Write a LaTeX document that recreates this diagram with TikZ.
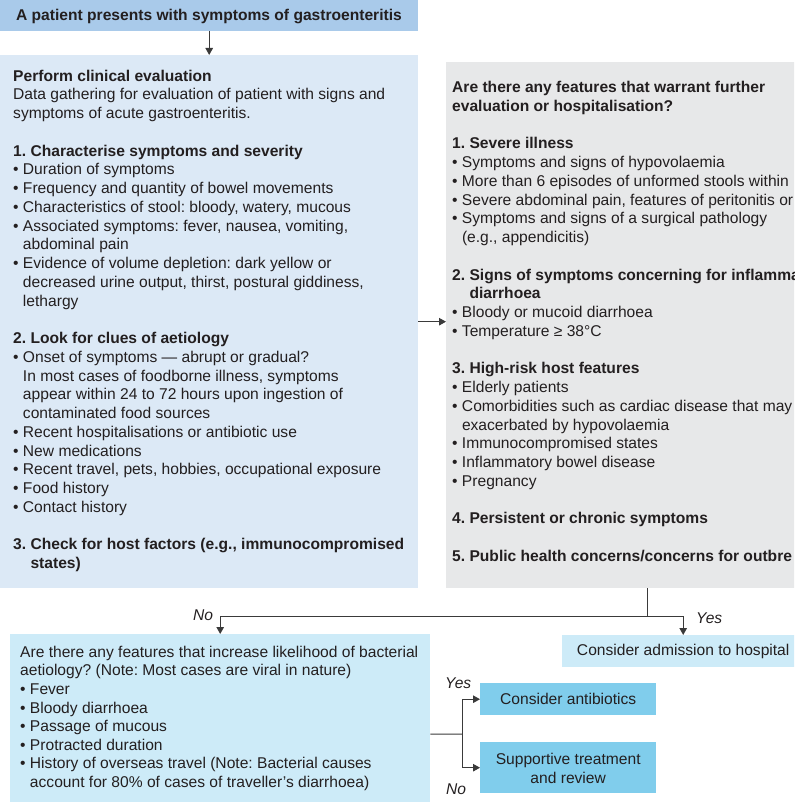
\documentclass[tikz,border=0pt]{standalone}
\usepackage{fontspec}
\setmainfont{Liberation Sans}
\usetikzlibrary{arrows.meta}
\frenchspacing
\definecolor{hdrblue}{HTML}{A9CAEA}
\definecolor{leftblue}{HTML}{DCE9F6}
\definecolor{rightgray}{HTML}{E7E8E9}
\definecolor{paleblue}{HTML}{CDEBF8}
\definecolor{midblue}{HTML}{80CDEC}
\definecolor{txtc}{HTML}{231F20}
\definecolor{linec}{HTML}{3A3A3A}
\newcommand{\fsz}{\fontsize{15.6}{18.75}\selectfont\frenchspacing}
\newcommand{\ind}{\hphantom{• }}
\newcommand{\gap}{\\[18.75pt]}
\begin{document}
\begin{tikzpicture}[x=1pt,y=-1pt,
  panel/.style={draw=none,rectangle,inner sep=0pt,anchor=north west},
  txt/.style={inner sep=0pt,anchor=north west,align=left,font=\fsz,text=txtc},
  ctxt/.style={inner sep=0pt,align=center,font=\fsz,text=txtc},
  lbl/.style={inner sep=0pt,font=\fsz\itshape,text=txtc,anchor=base west},
  conn/.style={draw=linec,line width=1pt},
  arr/.style={conn,-{Triangle[length=7pt,width=7.5pt]}}]
\useasboundingbox (0,0) rectangle (794,802);
\clip (0,0) rectangle (794,802);
% panels
\node[panel,fill=hdrblue,minimum width=418pt,minimum height=31pt] (header) at (0,0) {};
\node[inner sep=0pt,font=\fsz\bfseries,text=txtc,anchor=base] (headertext) at (209,21) {A patient presents with symptoms of gastroenteritis};
\node[panel,fill=leftblue,minimum width=418pt,minimum height=533pt] (leftbox) at (0,55) {};
\node[panel,fill=rightgray,minimum width=400pt,minimum height=526pt] (rightbox) at (446,62) {};
\node[panel,fill=paleblue,minimum width=420pt,minimum height=200pt] (bactbox) at (10,634) {};
\node[panel,fill=paleblue,minimum width=242pt,minimum height=32pt] (admit) at (562,635) {};
\node[ctxt] (admittext) at (admit.center) {Consider admission to hospital};
\node[panel,fill=midblue,minimum width=176pt,minimum height=32pt] (abx) at (480,683) {};
\node[ctxt] (abxtext) at (abx.center) {Consider antibiotics};
\node[panel,fill=midblue,minimum width=176pt,minimum height=51pt] (supp) at (480,742) {};
\node[ctxt] (supptext) at ([yshift=-1pt]supp.center) {Supportive treatment\\and review};
% left text
\node[txt] (lefttext) at (13,67.9) {\strut\textbf{Perform clinical evaluation}\\
Data gathering for evaluation of patient with signs and\\
symptoms of acute gastroenteritis.\gap
\textbf{1. Characterise symptoms and severity}\\
• Duration of symptoms\\
• Frequency and quantity of bowel movements\\
• Characteristics of stool: bloody, watery, mucous\\
• Associated symptoms: fever, nausea, vomiting,\\
\ind abdominal pain\\
• Evidence of volume depletion: dark yellow or\\
\ind decreased urine output, thirst, postural giddiness,\\
\ind lethargy\gap
\textbf{2. Look for clues of aetiology}\\
• Onset of symptoms — abrupt or gradual?\\
\ind In most cases of foodborne illness, symptoms\\
\ind appear within 24 to 72 hours upon ingestion of\\
\ind contaminated food sources\\
• Recent hospitalisations or antibiotic use\\
• New medications\\
• Recent travel, pets, hobbies, occupational exposure\\
• Food history\\
• Contact history\gap
\textbf{3. Check for host factors (e.g., immunocompromised}\\
\textbf{\hphantom{3. }states)}};
% right text
\node[txt] (righttext) at (452,79.4) {\strut\textbf{Are there any features that warrant further}\\
\textbf{evaluation or hospitalisation?}\gap
\textbf{1. Severe illness}\\
• Symptoms and signs of hypovolaemia\\
• More than 6 episodes of unformed stools within\\
• Severe abdominal pain, features of peritonitis or\\
• Symptoms and signs of a surgical pathology\\
\ind (e.g., appendicitis)\gap
\textbf{2. Signs of symptoms concerning for inflamma}\\
\textbf{\hphantom{2. }diarrhoea}\\
• Bloody or mucoid diarrhoea\\
• Temperature ≥ 38°C\gap
\textbf{3. High-risk host features}\\
• Elderly patients\\
• Comorbidities such as cardiac disease that may\\
\ind exacerbated by hypovolaemia\\
• Immunocompromised states\\
• Inflammatory bowel disease\\
• Pregnancy\gap
\textbf{4. Persistent or chronic symptoms}\gap
\textbf{5. Public health concerns/concerns for outbre}};
% bottom-left text
\node[txt,font=\fontsize{15.6}{18.6}\selectfont\frenchspacing] (bacttext) at (20,644) {\strut Are there any features that increase likelihood of bacterial\\
aetiology? (Note: Most cases are viral in nature)\\
• Fever\\
• Bloody diarrhoea\\
• Passage of mucous\\
• Protracted duration\\
• History of overseas travel (Note: Bacterial causes\\
\ind account for 80\% of cases of traveller’s diarrhoea)};
% connectors
\coordinate (split) at (647,616);
\coordinate (fork) at (462,734);
\draw[arr] (header.south) -- (leftbox.north);
\draw[arr] (leftbox.east) -- (leftbox.east -| rightbox.west);
\draw[conn] (rightbox.south -| split) -- (split);
\draw[arr] (split) -| (bactbox.north);
\draw[arr] (split) -| (admit.north);
\draw[conn] (bactbox.east) -- (fork);
\draw[arr] (fork) |- (abx.west);
\draw[arr] (fork) |- (supp.west);
% labels
\node[lbl] (lno1) at (193,620) {No};
\node[lbl] (lyes1) at (696,623) {Yes};
\node[lbl] (lyes2) at (445,688) {Yes};
\node[lbl] (lno2) at (446,794) {No};
\end{tikzpicture}
\end{document}
